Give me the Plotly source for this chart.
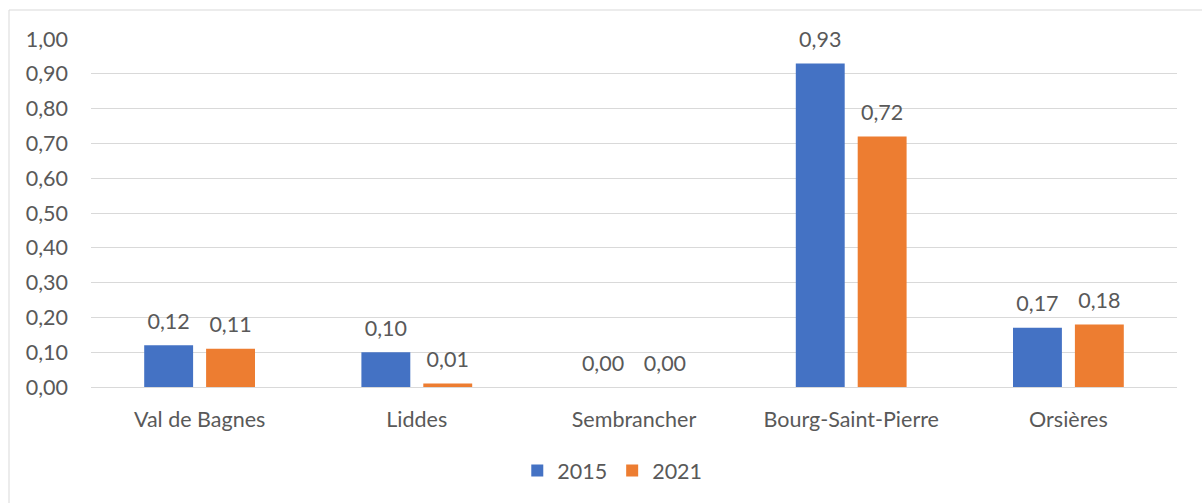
import plotly.graph_objects as go

# Communes and their values for the two survey years
communes = ["Val de Bagnes", "Liddes", "Sembrancher", "Bourg-Saint-Pierre", "Orsières"]
values_2015 = [0.12, 0.10, 0.00, 0.93, 0.17]
values_2021 = [0.11, 0.01, 0.00, 0.72, 0.18]
years = ["2015", "2021"]
y_ticks = [0.0, 0.1, 0.2, 0.3, 0.4, 0.5, 0.6, 0.7, 0.8, 0.9, 1.0]

BLUE = "#4472C4"
ORANGE = "#ED7D31"
TEXT = "#595959"
GRID = "#D9D9D9"
FONT = "Lato"
SIZE = 21.5

fig = go.Figure()

for name, vals, col in zip(years, [values_2015, values_2021], [BLUE, ORANGE]):
    fig.add_trace(go.Bar(
        x=communes, y=vals, name=name, marker=dict(color=col, line=dict(width=0)),
        offsetgroup=name,
    ))

# Value labels above each bar, grouped alongside the bars
for name, vals in zip(years, [values_2015, values_2021]):
    fig.add_trace(go.Scatter(
        x=communes, y=vals, mode="markers+text", offsetgroup=name,
        text=[f"{v:.2f}".replace(".", ",") for v in vals],
        textposition="top center",
        textfont=dict(family=FONT, size=SIZE, color=TEXT),
        marker=dict(size=16, opacity=0),
        showlegend=False, hoverinfo="skip", cliponaxis=False,
    ))

fig.update_layout(
    width=1202, height=503,
    margin=dict(l=91, r=25, t=39, b=114),
    paper_bgcolor="white", plot_bgcolor="white",
    separators=", ",
    barmode="group", scattermode="group",
    bargap=0.43, bargroupgap=0.21,
    font=dict(family=FONT, size=SIZE, color=TEXT),
    showlegend=True,
    legend=dict(orientation="h", x=0.48, xanchor="center", y=-0.24, yanchor="middle",
                font=dict(family=FONT, size=SIZE, color=TEXT), itemclick=False),
    xaxis=dict(showgrid=False, showline=False, zeroline=False,
               ticks="", ticklabelstandoff=17,
               tickfont=dict(family=FONT, size=SIZE, color=TEXT)),
    yaxis=dict(range=[0, 1.0005], tickvals=y_ticks, tickformat=".2f",
               showgrid=True, gridcolor=GRID, gridwidth=1,
               zeroline=True, zerolinecolor=GRID, zerolinewidth=1,
               showline=False, ticks="", ticklabelstandoff=22,
               tickfont=dict(family=FONT, size=SIZE, color=TEXT)),
    shapes=[dict(type="rect", xref="paper", yref="paper",
                 x0=-0.0755, x1=1.2, y0=-0.6, y1=1.0833,
                 line=dict(color=GRID, width=1), fillcolor="rgba(0,0,0,0)", layer="below")],
)

fig.write_html("out.html")
